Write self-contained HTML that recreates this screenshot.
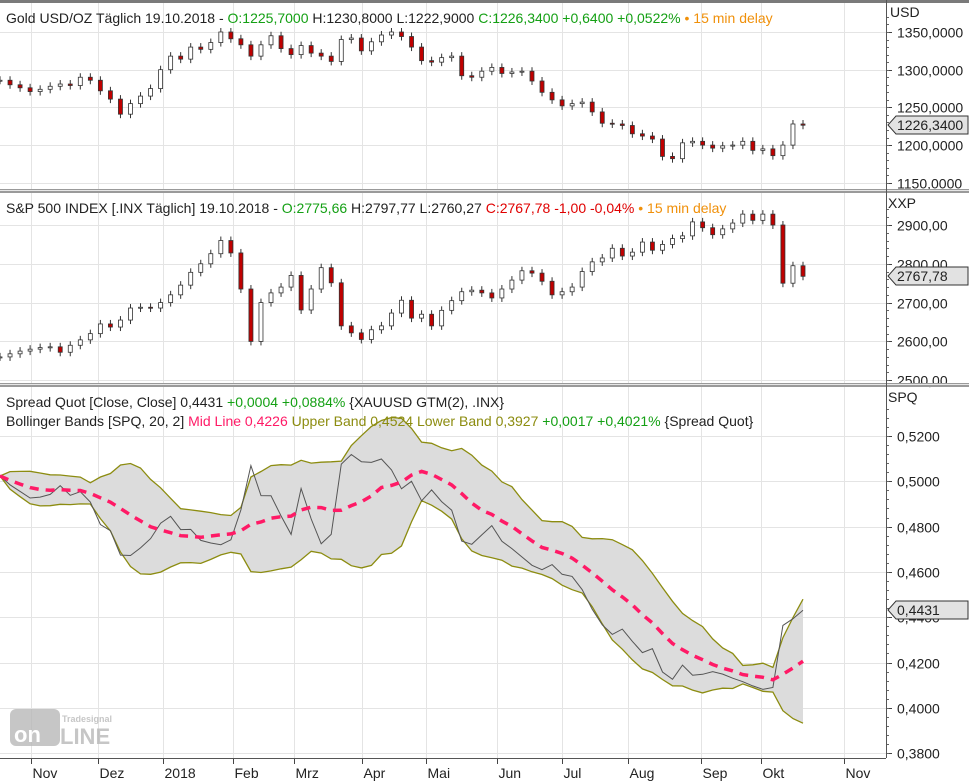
<!DOCTYPE html>
<html><head><meta charset="utf-8"><style>
html,body{margin:0;padding:0;background:#fff;}
svg{display:block;font-family:"Liberation Sans",sans-serif;}
</style></head><body>
<svg id="chart" width="969" height="781" viewBox="0 0 969 781">
<defs>
<clipPath id="c1"><rect x="0" y="3" width="886" height="187"/></clipPath>
<clipPath id="c2"><rect x="0" y="194" width="886" height="190"/></clipPath>
<clipPath id="c3"><rect x="0" y="388" width="886" height="369"/></clipPath>
</defs>
<rect x="0" y="0" width="969" height="781" fill="#fff"/>
<g id="grid"></g>
<g id="p1" clip-path="url(#c1)"></g>
<g id="p2" clip-path="url(#c2)"></g>
<g id="p3" clip-path="url(#c3)"></g>
<g id="axes"></g>
<rect x="0" y="0" width="969" height="3" fill="#7a7a7a"/>
<rect x="0" y="189" width="969" height="4" fill="#9a9a9a"/>
<rect x="0" y="190" width="969" height="1" fill="#e6e6e6"/>
<rect x="0" y="383" width="969" height="4" fill="#9a9a9a"/>
<rect x="0" y="384" width="969" height="1" fill="#e6e6e6"/>
<line x1="886.5" y1="0" x2="886.5" y2="758" stroke="#555" stroke-width="1"/>
<line x1="0" y1="758.5" x2="886" y2="758.5" stroke="#555" stroke-width="1"/>
<text x="6" y="23" font-size="14"><tspan fill="#222">Gold USD/OZ Täglich 19.10.2018 - </tspan><tspan fill="#14a014">O:1225,7000 </tspan><tspan fill="#222">H:1230,8000 L:1222,9000 </tspan><tspan fill="#14a014">C:1226,3400 +0,6400 +0,0522% </tspan><tspan fill="#f0900a">• 15 min delay</tspan></text>
<text x="6" y="213" font-size="14"><tspan fill="#222">S&amp;P 500 INDEX [.INX Täglich] 19.10.2018 - </tspan><tspan fill="#14a014">O:2775,66 </tspan><tspan fill="#222">H:2797,77 L:2760,27 </tspan><tspan fill="#e00000">C:2767,78 -1,00 -0,04% </tspan><tspan fill="#f0900a">• 15 min delay</tspan></text>
<text x="6" y="407" font-size="14"><tspan fill="#222">Spread Quot [Close, Close] 0,4431 </tspan><tspan fill="#14a014">+0,0004 +0,0884% </tspan><tspan fill="#222">{XAUUSD GTM(2), .INX}</tspan></text>
<text x="6" y="426" font-size="14"><tspan fill="#222">Bollinger Bands [SPQ, 20, 2] </tspan><tspan fill="#ff1a66">Mid Line 0,4226 </tspan><tspan fill="#8c8c10">Upper Band 0,4524 Lower Band 0,3927 </tspan><tspan fill="#14a014">+0,0017 +0,4021% </tspan><tspan fill="#222">{Spread Quot}</tspan></text>
<text x="890" y="17" font-size="14" fill="#222">USD</text>
<text x="888" y="208" font-size="14" fill="#222">XXP</text>
<text x="888" y="402" font-size="14" fill="#222">SPQ</text>
<g opacity="0.75">
<rect x="10" y="709" width="50" height="37" rx="6" fill="#b4b4b4"/>
<text x="14" y="742" font-size="22" font-weight="bold" fill="#fff">on</text>
<text x="62" y="722" font-size="9" font-weight="bold" fill="#b4b4b4">Tradesignal</text>
<text x="60" y="744" font-size="22" font-weight="bold" fill="#b4b4b4">LINE</text>
</g>
</svg>
<script>
const goldClose=[1286,1280,1276,1271,1274,1278,1281,1279,1290,1286,1272,1261,1241,1255,1265,1275,1300,1318,1314,1330,1327,1336,1350,1341,1333,1318,1333,1345,1328,1320,1332,1322,1318,1311,1340,1342,1325,1337,1346,1350,1344,1330,1312,1310,1316,1318,1292,1290,1298,1303,1295,1297,1298,1285,1270,1260,1252,1255,1257,1244,1229,1228,1226,1215,1212,1208,1185,1182,1203,1205,1200,1196,1199,1200,1205,1193,1195,1186,1200,1228,1226.34];
const spxClose=[2560,2568,2575,2580,2584,2586,2572,2590,2604,2620,2645,2637,2655,2686,2688,2686,2700,2720,2745,2778,2800,2826,2860,2828,2735,2600,2700,2725,2740,2770,2681,2735,2790,2751,2640,2622,2605,2630,2640,2673,2706,2660,2670,2640,2680,2705,2728,2732,2725,2712,2735,2758,2782,2776,2755,2720,2728,2740,2780,2805,2815,2840,2820,2830,2856,2835,2850,2865,2872,2908,2893,2875,2890,2905,2928,2912,2928,2900,2750,2795,2767.78];
const monthLabels=["Nov","Dez","2018","Feb","Mrz","Apr","Mai","Jun","Jul","Aug","Sep","Okt","Nov"];
const monthIdx=[3.1,9.8,16.2,23.2,29.3,36.1,42.4,49.5,56.0,62.6,69.8,75.8,84.1];
const goldTicks=[1150,1200,1250,1300,1350];
const spxTicks=[2500,2600,2700,2800,2900];
const spqTicks=[0.38,0.40,0.42,0.44,0.46,0.48,0.50,0.52];

const NS="http://www.w3.org/2000/svg";
const N=goldClose.length;
const xS=i=>i*803/(N-1);
const yGold=v=>32+(1350-v)*0.754;
const ySpx=v=>225+(2900-v)*0.388;
const ySpq=v=>436+(0.52-v)*2265;
function mk(tag,attrs,parent){const e=document.createElementNS(NS,tag);for(const k in attrs)e.setAttribute(k,attrs[k]);parent.appendChild(e);return e;}
const grid=document.getElementById('grid'),axes=document.getElementById('axes');
const fmt=(v,d)=>v.toFixed(d).replace('.',',');

monthIdx.forEach((m,k)=>{
  const x=Math.round(xS(m))+0.5;
  const gl=mk('line',{x1:x,y1:3,x2:x,y2:758,stroke:'#e4e4e4'},grid);
  
  
  mk('line',{x1:x,y1:758,x2:x,y2:764,stroke:'#444'},axes);
  const t=mk('text',{x:x+1,y:778,'font-size':14,fill:'#222'},axes);
  t.textContent=monthLabels[k];
  
  
});
function yAxis(ticks,yf,dec,minor,lo,hi,name){
  ticks.forEach(v=>{
    const y=Math.round(yf(v))+0.5;
    mk('line',{x1:0,y1:y,x2:886,y2:y,stroke:'#e4e4e4'},grid);
    mk('line',{x1:887,y1:y,x2:892,y2:y,stroke:'#444'},axes);
    const t=mk('text',{x:897,y:y+5,'font-size':14,fill:'#222'},axes);
    t.textContent=fmt(v,dec);
    
    
  });
  for(let v=lo;v<=hi+1e-9;v+=minor){const y=Math.round(yf(v))+0.5;mk('line',{x1:887,y1:y,x2:889,y2:y,stroke:'#666'},axes);}
}
yAxis(goldTicks,yGold,4,10,1150,1370,'gold-y');
yAxis(spxTicks,ySpx,2,20,2500,2940,'spx-y');
yAxis(spqTicks,ySpq,4,0.004,0.38,0.532,'spq-y');

function candles(parent,data,yf,name){
  const w=4;
  for(let i=0;i<data.length;i++){
    const c=data[i],o=i?data[i-1]:c;
    const x=xS(i);
    const y1=yf(Math.max(o,c)),y2=yf(Math.min(o,c));
    const wick=mk('line',{x1:x,y1:y1-4,x2:x,y2:y2+4,stroke:'#333','stroke-width':1},parent);
    
    
    const r=mk('rect',{x:x-w/2,y:y1,width:w,height:Math.max(1,y2-y1),fill:c>=o?'#fff':'#c00000',stroke:'#333','stroke-width':0.8},parent);
    
    
  }
}
candles(document.getElementById('p1'),goldClose,yGold,'gold');
candles(document.getElementById('p2'),spxClose,ySpx,'spx');

const p3=document.getElementById('p3');
const spread=goldClose.map((g,i)=>g/spxClose[i]);
const W=9,mid=[],up=[],lo=[];
for(let i=0;i<N;i++){
  const s=spread.slice(Math.max(0,i-W+1),i+1);
  const m=s.reduce((a,b)=>a+b,0)/s.length;
  const sd=Math.sqrt(s.reduce((a,b)=>a+(b-m)*(b-m),0)/s.length);
  mid.push(m);up.push(m+2*sd);lo.push(m-2*sd);
}
const pts=(arr)=>arr.map((v,i)=>xS(i).toFixed(1)+','+ySpq(v).toFixed(1));
const band=mk('polygon',{points:pts(up).concat(pts(lo).reverse()).join(' '),fill:'#dcdcdc'},p3);


const ub=mk('polyline',{points:pts(up).join(' '),fill:'none',stroke:'#8c8c10','stroke-width':1.3},p3);


const lb=mk('polyline',{points:pts(lo).join(' '),fill:'none',stroke:'#8c8c10','stroke-width':1.3},p3);


const sl=mk('polyline',{points:pts(spread).join(' '),fill:'none',stroke:'#555','stroke-width':1},p3);


const ml=mk('polyline',{points:pts(mid).join(' '),fill:'none',stroke:'#ff1a66','stroke-width':3.5,'stroke-dasharray':'9,7'},p3);



function marker(y,label,name){
  const g=mk('g',{},axes);
  
  
  mk('polygon',{points:`888,${y} 896,${y-9} 968,${y-9} 968,${y+9} 896,${y+9}`,fill:'#e2e2e2',stroke:'#333','stroke-width':1},g);
  const t=mk('text',{x:897,y:y+5,'font-size':14,fill:'#222'},g);
  t.textContent=label;
}
marker(Math.round(yGold(goldClose[N-1])),fmt(goldClose[N-1],4),'gold-last-price');
marker(Math.round(ySpx(spxClose[N-1])),fmt(spxClose[N-1],2),'spx-last-price');
marker(Math.round(ySpq(spread[N-1])),fmt(spread[N-1],4),'spread-last-value');
</script>
</body></html>
